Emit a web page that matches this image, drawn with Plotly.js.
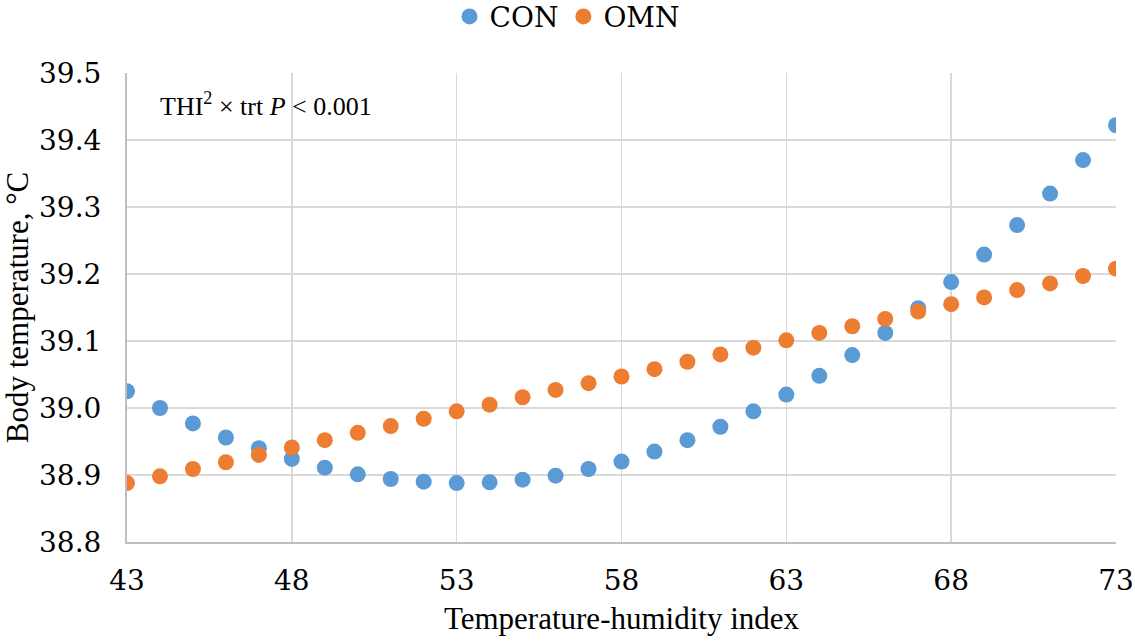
<!DOCTYPE html>
<html>
<head>
<meta charset="utf-8">
<script src="https://cdn.plot.ly/plotly-3.0.1.min.js"></script>
<style>
html,body{margin:0;padding:0;background:#fff}
#chart{width:1135px;height:644px}
</style>
</head>
<body>
<div id="chart"></div>
<script>
const thi = [43,44,45,46,47,48,49,50,51,52,53,54,55,56,57,58,59,60,61,62,63,64,65,66,67,68,69,70,71,72,73];
const conTemp = [39.025,39.000,38.977,38.956,38.940,38.924,38.911,38.901,38.894,38.890,38.888,38.889,38.893,38.899,38.909,38.920,38.935,38.952,38.972,38.995,39.020,39.048,39.079,39.112,39.149,39.188,39.229,39.273,39.320,39.370,39.422];
const omnTemp = [38.888,38.898,38.909,38.919,38.930,38.941,38.952,38.963,38.973,38.984,38.995,39.005,39.016,39.027,39.037,39.047,39.058,39.069,39.080,39.090,39.101,39.112,39.122,39.133,39.144,39.155,39.165,39.176,39.186,39.197,39.208];
const seriesNames = ['CON','OMN'];
const xTitle = 'Temperature-humidity index';
const yTitle = 'Body temperature, °C';
const noteText = 'THI<sup>2</sup> × trt <i>P</i> &lt; 0.001';

const FONT = 'Liberation Serif';
const TICKFONT = 'DejaVu Serif';
const fx = (s, fam) => ({family: fam || FONT, size: s, color: '#000', weight: 'normal', style: 'normal',
                          variant: 'normal', textcase: 'normal', lineposition: 'none', shadow: 'none'});
const traces = [
  {x: thi, y: conTemp, name: seriesNames[0], type: 'scatter', mode: 'markers',
   marker: {color: '#5B9BD5', size: 16}},
  {x: thi, y: omnTemp, name: seriesNames[1], type: 'scatter', mode: 'markers',
   marker: {color: '#ED7D31', size: 16}}
];
const layout = {
  width: 1135, height: 644,
  margin: {l: 127, r: 19, t: 73, b: 102},
  paper_bgcolor: '#fff', plot_bgcolor: '#fff',
  font: fx(31),
  showlegend: true,
  legend: {orientation: 'h', xref: 'container', yref: 'container', x: 0.5, xanchor: 'center', y: 0.974, yanchor: 'middle',
           font: fx(28, TICKFONT), itemwidth: 30, tracegroupgap: 0},
  xaxis: {range: [43, 73], tick0: 43, dtick: 5, showgrid: true, gridcolor: '#D9D9D9', gridwidth: 1.5,
          showline: true, linecolor: '#BFBFBF', linewidth: 2, zeroline: false, ticks: '',
          ticklabelstandoff: 12, tickfont: fx(28, TICKFONT),
          title: {text: xTitle, font: fx(31), standoff: 12}},
  yaxis: {range: [38.8, 39.5], dtick: 0.1, tickformat: '.1f', showgrid: true, gridcolor: '#D9D9D9', gridwidth: 1.5,
          showline: true, linecolor: '#BFBFBF', linewidth: 2, zeroline: false, ticks: '',
          ticklabelstandoff: 18, tickfont: fx(28, TICKFONT),
          title: {text: yTitle, font: fx(31), standoff: 6}},
  annotations: [{xref: 'paper', yref: 'paper', x: 0.031, y: 0.932, xanchor: 'left', yanchor: 'middle',
                 text: noteText, showarrow: false, font: fx(26)}]
};
Plotly.newPlot('chart', traces, layout, {displayModeBar: false, staticPlot: true});
</script>
</body>
</html>
